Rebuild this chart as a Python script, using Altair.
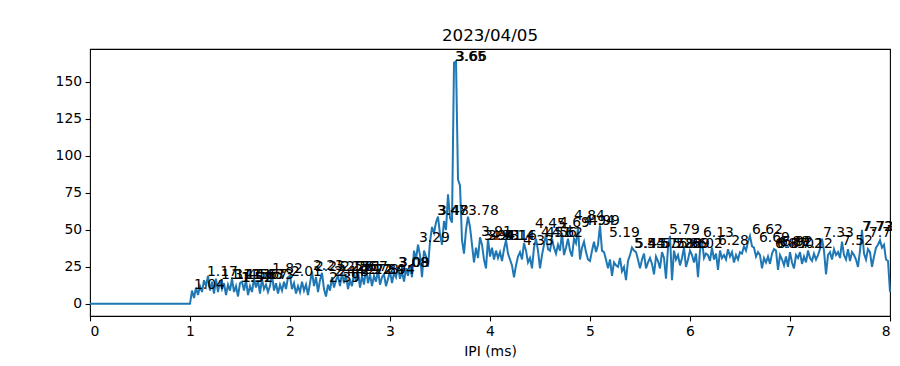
import altair as alt
import numpy as np
import pandas as pd

# Histogram counts per 0.02 ms IPI bin, starting at 1.00 ms (0 before 1 ms)
BIN_START = 1.00
BIN_STEP = 0.02
counts = [
    # 1.00 - 1.98
    0, 9, 4, 11, 6, 12, 8, 16, 12, 19,
    9, 15, 7, 17, 8, 16, 10, 14, 6, 13,
    9, 17, 8, 12, 5, 14, 15, 9, 16, 6,
    12, 8, 17, 11, 16, 7, 17, 10, 13, 8,
    12, 20, 9, 14, 7, 13, 9, 15, 10, 18,
    # 2.00 - 2.98
    19, 10, 14, 7, 12, 8, 15, 9, 13, 6,
    14, 22, 12, 18, 8, 16, 21, 10, 5, 13,
    9, 18, 11, 16, 19, 12, 21, 14, 20, 10,
    16, 12, 21, 15, 22, 11, 19, 13, 24, 14,
    20, 12, 19, 15, 23, 13, 18, 20, 12, 17,
    # 3.00 - 3.98
    22, 14, 21, 18, 25, 17, 22, 15, 24, 19,
    26, 18, 36, 30, 40, 33, 18, 36, 32, 25,
    42, 52, 48, 55, 59, 47, 40, 56, 50, 74,
    58, 55, 163, 164, 84, 80, 43, 34, 50, 59,
    52, 40, 28, 38, 31, 45, 40, 30, 24, 44,
    # 4.00 - 4.98
    32, 38, 30, 36, 31, 35, 29, 37, 43, 34,
    30, 26, 18, 26, 32, 35, 30, 41, 36, 28,
    31, 24, 38, 44, 36, 24, 33, 40, 47, 37,
    36, 44, 38, 34, 40, 36, 48, 33, 38, 44,
    36, 32, 44, 41, 51, 30, 38, 42, 35, 30,
    # 5.00 - 5.98
    29, 36, 42, 35, 40, 53, 36, 35, 30, 24,
    30, 19, 28, 26, 25, 31, 22, 25, 16, 29,
    33, 38, 36, 35, 30, 24, 30, 34, 24, 28,
    31, 27, 20, 32, 29, 24, 35, 31, 17, 38,
    46, 16, 36, 30, 33, 26, 31, 38, 25, 30,
    # 6.00 - 6.98
    36, 33, 28, 34, 18, 36, 43, 31, 34, 33,
    29, 38, 30, 34, 23, 36, 31, 33, 30, 37,
    32, 35, 28, 33, 30, 35, 34, 39, 36, 42,
    46, 39, 38, 32, 35, 33, 24, 31, 28, 32,
    27, 34, 37, 36, 23, 33, 30, 26, 32, 25,
    # 7.00 - 8.00
    35, 28, 24, 33, 31, 35, 27, 32, 28, 36,
    31, 29, 34, 30, 33, 37, 44, 36, 20, 33,
    35, 30, 37, 33, 35, 31, 42, 33, 30, 37,
    29, 35, 33, 30, 25, 36, 50, 34, 30, 37,
    35, 25, 32, 38, 40, 43, 38, 40, 30, 29, 8,
]

# Peak annotations (IPI position, count)
peak_x = [1.04, 1.17, 1.31, 1.41, 1.45, 1.51, 1.52, 1.56, 1.63, 1.67, 1.73, 1.82, 2.01,
          2.23, 2.25, 2.39, 2.44, 2.48, 2.51, 2.56, 2.61, 2.67, 2.72, 2.78, 2.84, 2.94,
          3.08, 3.09, 3.29, 3.47, 3.48, 3.65, 3.66, 3.78, 3.91, 3.94, 3.98, 4.01, 4.14,
          4.16, 4.33, 4.45, 4.51, 4.56, 4.62, 4.69, 4.84, 4.94, 4.99, 5.19, 5.44, 5.45,
          5.57, 5.72, 5.79, 5.82, 5.86, 5.89, 6.02, 6.13, 6.28, 6.62, 6.69, 6.85, 6.87,
          6.89, 6.92, 7.02, 7.12, 7.33, 7.52, 7.72, 7.73, 7.79]
peak_y = [10, 19, 17, 17, 17, 15, 15, 17, 17, 17, 17, 21, 19,
          23, 22, 15, 19, 19, 22, 22, 22, 22, 20, 20, 20, 20,
          25, 25, 42, 60, 60, 164, 164, 60, 46, 43, 43, 43, 43,
          43, 40, 51, 45, 45, 45, 52, 57, 53, 53, 45, 38, 38,
          38, 38, 47, 38, 38, 38, 38, 45, 40, 47, 42, 38, 38,
          39, 39, 38, 38, 45, 40, 49, 49, 45]

bin_x = np.round(BIN_START + BIN_STEP * np.arange(len(counts)), 2)
line_df = pd.DataFrame({"x": np.concatenate([[0.0], bin_x]),
                        "y": [0] + counts})
lab_df = pd.DataFrame({"x": peak_x, "y": peak_y})

FONT = "DejaVu Sans"
xs = alt.Scale(domain=[0, 8], nice=False, zero=False)
ys = alt.Scale(domain=[-8.2, 172.3], nice=False, zero=False)

line = alt.Chart(line_df).mark_line(color="#1f77b4", strokeWidth=2).encode(
    x=alt.X("x:Q", scale=xs, title="IPI (ms)",
            axis=alt.Axis(values=list(range(0, 9)), format="d")),
    y=alt.Y("y:Q", scale=ys, title=None,
            axis=alt.Axis(values=[0, 25, 50, 75, 100, 125, 150], format="d")),
)

labels = alt.Chart(lab_df).mark_text(
    align="left", baseline="alphabetic", font=FONT, fontSize=13.9, color="black"
).encode(
    x=alt.X("x:Q", scale=xs),
    y=alt.Y("y:Q", scale=ys),
    text=alt.Text("x:Q", format=".2f"),
)

chart = alt.layer(line, labels).properties(
    width=800, height=267,
    title=alt.TitleParams("2023/04/05", font=FONT, fontSize=16.7, fontWeight="normal",
                          color="black", offset=4),
    autosize=alt.AutoSizeParams(type="none"),
    padding={"left": 82, "top": 41, "right": 2, "bottom": 42},
).configure_view(
    stroke="black", strokeWidth=1.1
).configure_axis(
    domain=False, grid=False,
    labelFont=FONT, labelFontSize=13.9, labelColor="black",
    titleFont=FONT, titleFontSize=13.9, titleFontWeight="normal", titleColor="black",
    tickColor="black", tickSize=4.9, tickWidth=1.1, labelPadding=3.5,
    titlePadding=6,
)

chart.save("out.html", embed_options={"renderer": "svg", "actions": False})
